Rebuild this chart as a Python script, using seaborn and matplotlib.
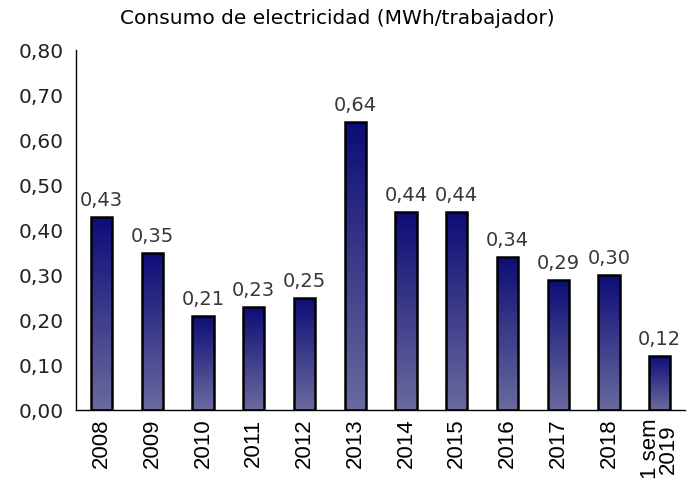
import numpy as np
import pandas as pd
import matplotlib
matplotlib.use("Agg")
import matplotlib.pyplot as plt
import seaborn as sns
from matplotlib.colors import LinearSegmentedColormap

# Datos
periodos = ["2008", "2009", "2010", "2011", "2012", "2013", "2014",
            "2015", "2016", "2017", "2018", "1 sem\n2019"]
consumo = [0.43, 0.35, 0.21, 0.23, 0.25, 0.64, 0.44, 0.44, 0.34, 0.29, 0.30, 0.12]
yticks = [0.0, 0.1, 0.2, 0.3, 0.4, 0.5, 0.6, 0.7, 0.8]

df = pd.DataFrame({"periodo": periodos, "consumo": consumo})

sns.set_style("white")
plt.rcParams["font.family"] = ["DejaVu Sans"]

fig = plt.figure(figsize=(6.92, 4.82), dpi=100)
ax = fig.add_axes([0.110, 0.149, 0.880, 0.747])

sns.barplot(data=df, x="periodo", y="consumo", color="#2a2a80",
            width=0.42, ax=ax, zorder=2)

# Degradado vertical en cada barra (oscuro arriba, claro abajo)
cmap = LinearSegmentedColormap.from_list("grad", ["#6a6a9e", "#3c3c8a", "#0c0c78"])
grad = np.linspace(0, 1, 256).reshape(-1, 1)
for p in ax.patches:
    x0, y0 = p.get_x(), p.get_y()
    w, h = p.get_width(), p.get_height()
    im = ax.imshow(grad, cmap=cmap, origin="lower", aspect="auto",
                   extent=[x0, x0 + w, y0, y0 + h], zorder=2)
    im.set_clip_path(p)
    p.set_facecolor("none")
    p.set_edgecolor("black")
    p.set_linewidth(1.8)
    p.set_zorder(3)

# Etiquetas de valor
for i, v in enumerate(consumo):
    ax.annotate(f"{v:.2f}".replace(".", ","), (i, v), xytext=(0, 5),
                textcoords="offset points", ha="center", va="bottom",
                fontsize=14, color="#383838")

ax.set_xlim(-0.5, len(periodos) - 0.5)
ax.set_ylim(0, 0.8)
ax.set_yticks(yticks)
ax.set_yticklabels([f"{t:.2f}".replace(".", ",") for t in yticks], fontsize=14.5)
ax.set_xticks(range(len(periodos)))
ax.set_xticklabels(periodos, rotation=90, fontsize=16,
                   family="Liberation Sans", linespacing=0.8)
ax.set_xticks(np.arange(-0.5, len(periodos), 1), minor=True)
ax.tick_params(axis="x", which="major", length=0, pad=6, colors="black")
ax.tick_params(axis="x", which="minor", length=6, width=1, direction="out")
ax.tick_params(axis="y", length=5, width=1, direction="out", pad=4,
               colors="black", labelcolor="#222222")
ax.set_xlabel("")
ax.set_ylabel("")

for s in ["top", "right"]:
    ax.spines[s].set_visible(False)
for s in ["left", "bottom"]:
    ax.spines[s].set_color("black")
    ax.spines[s].set_linewidth(1)

fig.text(0.487, 0.962, "Consumo de electricidad (MWh/trabajador)",
         ha="center", va="center", fontsize=14.5, color="black")

fig.savefig("out.png", dpi=100)
